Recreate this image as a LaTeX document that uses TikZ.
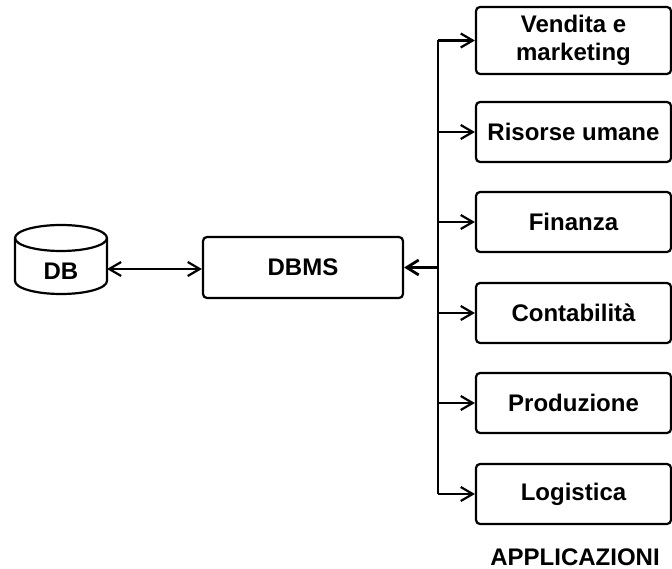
\documentclass[tikz,border=0pt]{standalone}
\usepackage{fontspec}
\setmainfont{Liberation Sans}
\usetikzlibrary{arrows.meta}
\begin{document}
\begin{tikzpicture}[x=1pt,y=-1pt,
  line width=2.2pt,
  every node/.style={font=\fontsize{24}{28}\selectfont\bfseries, inner sep=0pt},
  appbox/.style={draw, rounded corners=4pt, minimum width=195pt, minimum height=60pt, align=center},
  link/.style={-{Straight Barb[length=12pt,width=14pt]}},
  biglink/.style={line width=2.8pt,-{Straight Barb[length=12pt,width=15pt]}}]
\useasboundingbox (0,0) rectangle (672,569);

% database cylinder
\draw (15,238) -- (15,281) arc[start angle=180,end angle=0,x radius=46,y radius=13]
      -- (107,238) arc[start angle=0,end angle=-180,x radius=46,y radius=13];
\draw (15,238) arc[start angle=180,end angle=0,x radius=46,y radius=13];
\node (db) at (61,271) {DB};
\coordinate (dbr) at (107,269);

% DBMS
\node[draw, rounded corners=4pt, minimum width=200pt, minimum height=61pt] (dbms) at (303,267.5) {DBMS};
\draw[{Straight Barb[length=12pt,width=14pt]}-{Straight Barb[length=12pt,width=14pt]}] (dbr) -- (dbr -| dbms.west);

% applications
\node[appbox, minimum height=67pt] (b1) at (573.5,40.5) {Vendita e\\marketing};
\node[appbox] (b2) at (573.5,132) {Risorse umane};
\node[appbox] (b3) at (573.5,222) {Finanza};
\node[appbox] (b4) at (573.5,313) {Contabilità};
\node[appbox] (b5) at (573.5,403) {Produzione};
\node[appbox] (b6) at (573.5,494) {Logistica};
\node (apps) at (575,557) {APPLICAZIONI};

% bus from the applications to the DBMS
\coordinate (bus) at (438,267.5);
\draw[line width=2.8pt] (bus |- b1.west) -- (bus |- b6.west);
\foreach \b in {b1,b2,b3,b4,b5,b6}
  \draw[link] (bus |- \b.west) -- (\b.west);
\draw[biglink] (bus) -- (dbms.east);
\end{tikzpicture}
\end{document}
